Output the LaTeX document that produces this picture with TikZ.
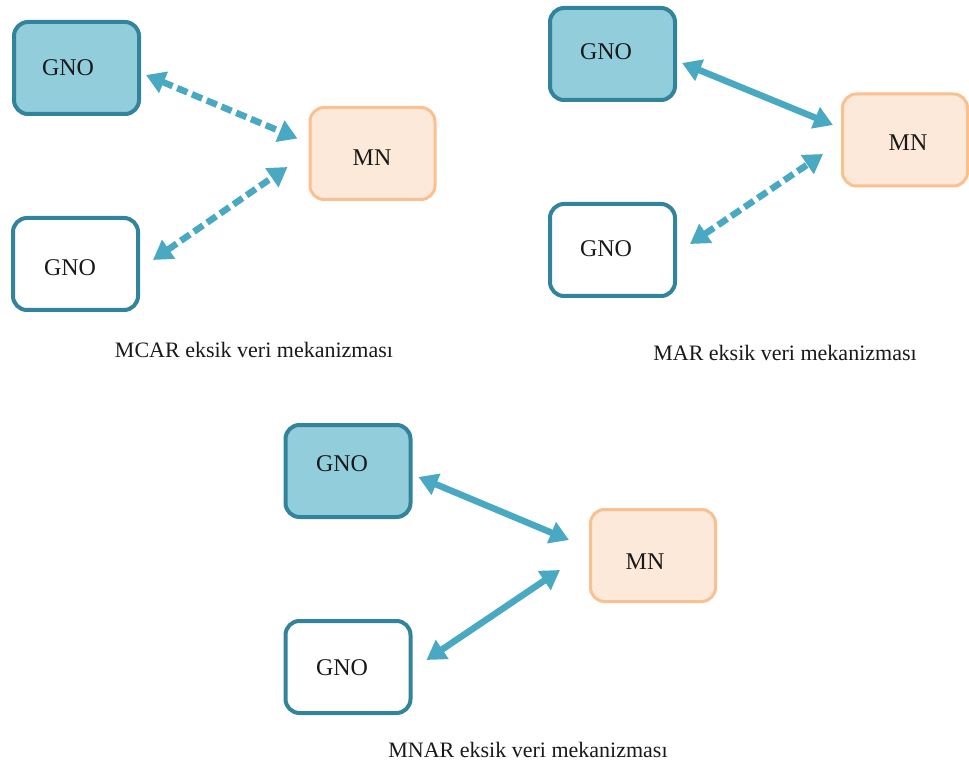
\documentclass[tikz,border=0pt]{standalone}
\usepackage{fontspec}
\setmainfont{Liberation Serif}
\usetikzlibrary{arrows.meta}
\definecolor{tealdark}{HTML}{31849B}
\definecolor{bluefill}{HTML}{92CDDC}
\definecolor{arrowcol}{HTML}{49A8C2}
\definecolor{mnfill}{HTML}{FDE9D9}
\definecolor{mnborder}{HTML}{FAC090}
\begin{document}
\begin{tikzpicture}[x=1pt,y=-1pt,
  box/.style={draw, rounded corners=14pt, line width=4pt, minimum width=125pt, minimum height=92pt, inner sep=0pt},
  gnofill/.style={box, draw=tealdark, fill=bluefill},
  gnowhite/.style={box, draw=tealdark, fill=white},
  mnbox/.style={box, draw=mnborder, fill=mnfill, line width=3pt},
  txt/.style={font=\fontsize{24}{28}\selectfont, text=black!90, inner sep=0pt},
  captxt/.style={font=\fontsize{22}{26}\selectfont, text=black!90, inner sep=0pt},
  link/.style={draw=arrowcol, line width=6.5pt, {Triangle[length=19pt,width=22pt]}-{Triangle[length=19pt,width=22pt]}},
  dlink/.style={link, dash pattern=on 11pt off 5pt}]
\useasboundingbox (0,0) rectangle (969,767);
% MCAR
\node[gnofill]  (g1) at (76.5,68) {};
\node[mnbox]    (m1) at (372.5,153.5) {};
\node[gnowhite] (g2) at (75.5,264) {};
\node[txt] (t1) at (68,68) {GNO};
\node[txt] (t2) at (372,158) {MN};
\node[txt] (t3) at (70,268) {GNO};
\draw[dlink] ([shift={(5,7)}]g1.east) -- ([shift={(-11,-15)}]m1.west);
\draw[dlink] ([shift={(13,-4)}]g2.east) -- ([shift={(-21,13.5)}]m1.west);
\node[captxt] (c1) at (254,350) {MCAR eksik veri mekanizması};
% MAR
\node[gnofill]  (g3) at (612.5,54) {};
\node[mnbox]    (m2) at (905,140) {};
\node[gnowhite] (g4) at (612.5,250) {};
\node[txt] (t4) at (606,52) {GNO};
\node[txt] (t5) at (908,143) {MN};
\node[txt] (t6) at (606,249) {GNO};
\draw[link] ([shift={(5,9)}]g3.east) -- ([shift={(-8,-15)}]m2.west);
\draw[dlink] ([shift={(13,-6)}]g4.east) -- ([shift={(-18,14)}]m2.west);
\node[captxt] (c2) at (785,353) {MAR eksik veri mekanizması};
% MNAR
\node[gnofill]  (g5) at (348,471) {};
\node[mnbox]    (m3) at (653,555.5) {};
\node[gnowhite] (g6) at (348,667) {};
\node[txt] (t7) at (342,464) {GNO};
\node[txt] (t8) at (645,562) {MN};
\node[txt] (t9) at (342,668) {GNO};
\draw[link] ([shift={(6,6)}]g5.east) -- ([shift={(-20,-15.5)}]m3.west);
\draw[link] ([shift={(14,-7)}]g6.east) -- ([shift={(-29,14.5)}]m3.west);
\node[captxt] (c3) at (528,750) {MNAR eksik veri mekanizması};
\end{tikzpicture}
\end{document}
